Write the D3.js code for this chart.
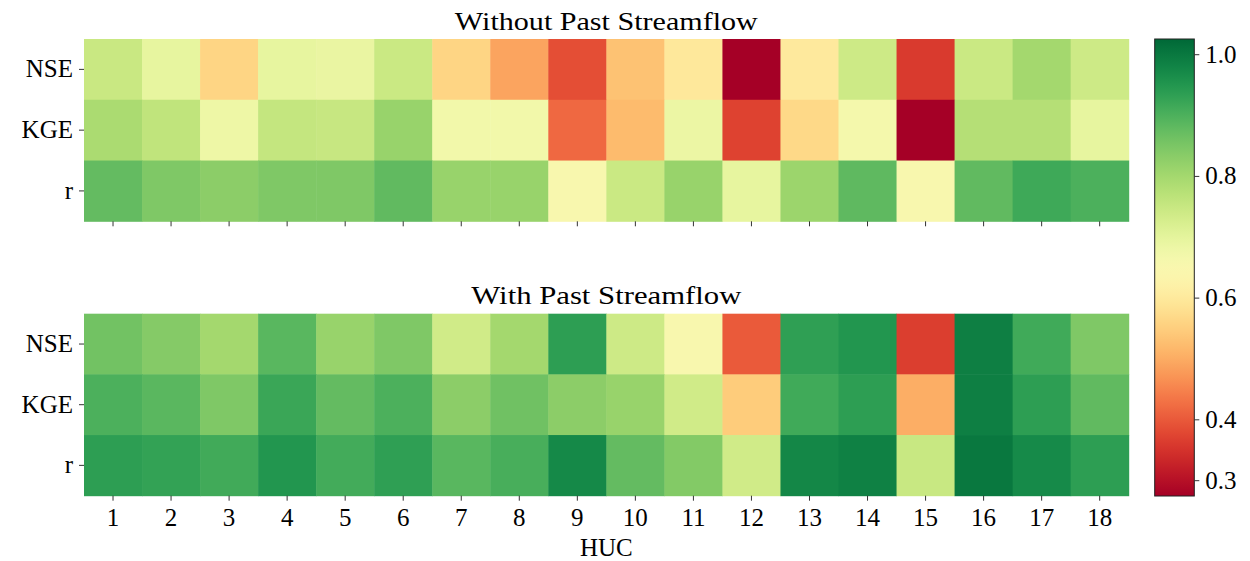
<!DOCTYPE html>
<html>
<head>
<meta charset="utf-8">
<script src="https://cdn.jsdelivr.net/npm/d3@7"></script>
<style>
  html, body { margin: 0; padding: 0; background: #fff; }
  svg { display: block; }
  text { font-family: "Liberation Serif", "DejaVu Serif", serif; fill: #000; }
</style>
</head>
<body>
<svg id="chart" width="1250" height="561"></svg>
<script>
// ---------------- data ----------------
const hucs = d3.range(1, 19);
const metrics = ["NSE", "KGE", "r"];
const colorbarTicks = [0.3, 0.4, 0.6, 0.8, 1.0];
const colorDomain = [0.274, 1.025];

const titles = ["Without Past Streamflow", "With Past Streamflow"];
const xLabel = "HUC";

// Without past streamflow
const withoutNSE = [0.747, 0.695, 0.560, 0.695, 0.690, 0.745, 0.560, 0.490, 0.385, 0.530, 0.597, 0.274, 0.600, 0.740, 0.360, 0.745, 0.800, 0.740];
const withoutKGE = [0.790, 0.760, 0.680, 0.755, 0.750, 0.815, 0.670, 0.670, 0.417, 0.520, 0.685, 0.370, 0.567, 0.665, 0.274, 0.777, 0.777, 0.695];
const withoutR   = [0.875, 0.845, 0.830, 0.845, 0.845, 0.878, 0.815, 0.815, 0.650, 0.745, 0.815, 0.695, 0.810, 0.880, 0.652, 0.878, 0.915, 0.900];

// With past streamflow
const withNSE = [0.860, 0.838, 0.800, 0.886, 0.815, 0.845, 0.736, 0.800, 0.935, 0.740, 0.650, 0.400, 0.933, 0.950, 0.365, 0.988, 0.913, 0.845];
const withKGE = [0.900, 0.885, 0.845, 0.920, 0.875, 0.900, 0.830, 0.862, 0.830, 0.815, 0.736, 0.545, 0.913, 0.935, 0.503, 0.988, 0.935, 0.878];
const withR   = [0.935, 0.928, 0.912, 0.950, 0.910, 0.933, 0.886, 0.905, 0.972, 0.875, 0.840, 0.736, 0.975, 0.985, 0.748, 1.000, 0.970, 0.935];

const panels = [
  { title: titles[0], titleWidth: 303, rows: [withoutNSE, withoutKGE, withoutR], top: 39, bottom: 221.3, showLabels: false },
  { title: titles[1], titleWidth: 270, rows: [withNSE, withKGE, withR], top: 313.7, bottom: 495.7, showLabels: true }
];

// ---------------- drawing ----------------
const svg = d3.select("#chart");
const FS = 25;
const left = 84, right = 1128.7;
const FONT = '"Liberation Serif", "DejaVu Serif", serif';

const x = d3.scaleBand().domain(hucs).range([left, right]).padding(0);
const color = d3.scaleSequential(d3.interpolateRdYlGn).domain(colorDomain);

function styleAxis(a) {
  a.select(".domain").remove();
  a.selectAll(".tick line").attr("stroke", "#333").attr("stroke-width", 1);
  a.selectAll("text").style("font-size", FS + "px").style("font-family", FONT).attr("fill", "#000");
}

panels.forEach(p => {
  const y = d3.scaleBand().domain(metrics).range([p.top, p.bottom]).padding(0);
  const cells = [];
  p.rows.forEach((vals, i) => vals.forEach((v, j) => cells.push({ m: metrics[i], h: hucs[j], v })));
  const g = svg.append("g");
  g.selectAll("rect").data(cells).join("rect")
    .attr("x", d => x(d.h))
    .attr("y", d => y(d.m))
    .attr("width", x.bandwidth() + 0.5)
    .attr("height", y.bandwidth() + 0.5)
    .attr("fill", d => color(d.v));

  // title
  svg.append("text")
    .attr("x", (left + right) / 2)
    .attr("y", p.top - 9.5)
    .attr("text-anchor", "middle")
    .attr("textLength", p.titleWidth)
    .attr("lengthAdjust", "spacingAndGlyphs")
    .style("font-size", FS + "px")
    .text(p.title);

  // x axis
  const xa = svg.append("g")
    .attr("transform", `translate(0,${p.bottom})`)
    .call(d3.axisBottom(x).tickSize(5).tickPadding(8).tickFormat(p.showLabels ? d => d : () => ""));
  styleAxis(xa);

  // y axis
  const ya = svg.append("g")
    .attr("transform", `translate(${left},0)`)
    .call(d3.axisLeft(y).tickSize(5).tickPadding(6));
  styleAxis(ya);
});

// x label
svg.append("text")
  .attr("x", (left + right) / 2)
  .attr("y", 556)
  .attr("text-anchor", "middle")
  .style("font-size", FS + "px")
  .text(xLabel);

// ---------------- colorbar ----------------
const cbX = 1154.7, cbW = 39.6, cbTop = 39, cbBot = 496;
const cbScale = d3.scaleLinear().domain(colorDomain).range([cbBot, cbTop]);
const defs = svg.append("defs");
const grad = defs.append("linearGradient")
  .attr("id", "cbgrad").attr("x1", 0).attr("y1", 1).attr("x2", 0).attr("y2", 0);
d3.range(0, 1.0001, 0.02).forEach(t => {
  grad.append("stop").attr("offset", t).attr("stop-color", d3.interpolateRdYlGn(t));
});
svg.append("rect")
  .attr("x", cbX).attr("y", cbTop)
  .attr("width", cbW).attr("height", cbBot - cbTop)
  .attr("fill", "url(#cbgrad)")
  .attr("stroke", "#222").attr("stroke-width", 1);

const ca = svg.append("g")
  .attr("transform", `translate(${cbX + cbW},0)`)
  .call(d3.axisRight(cbScale).tickValues(colorbarTicks).tickFormat(d3.format(".1f")).tickSize(5).tickPadding(6));
styleAxis(ca);
</script>
</body>
</html>
